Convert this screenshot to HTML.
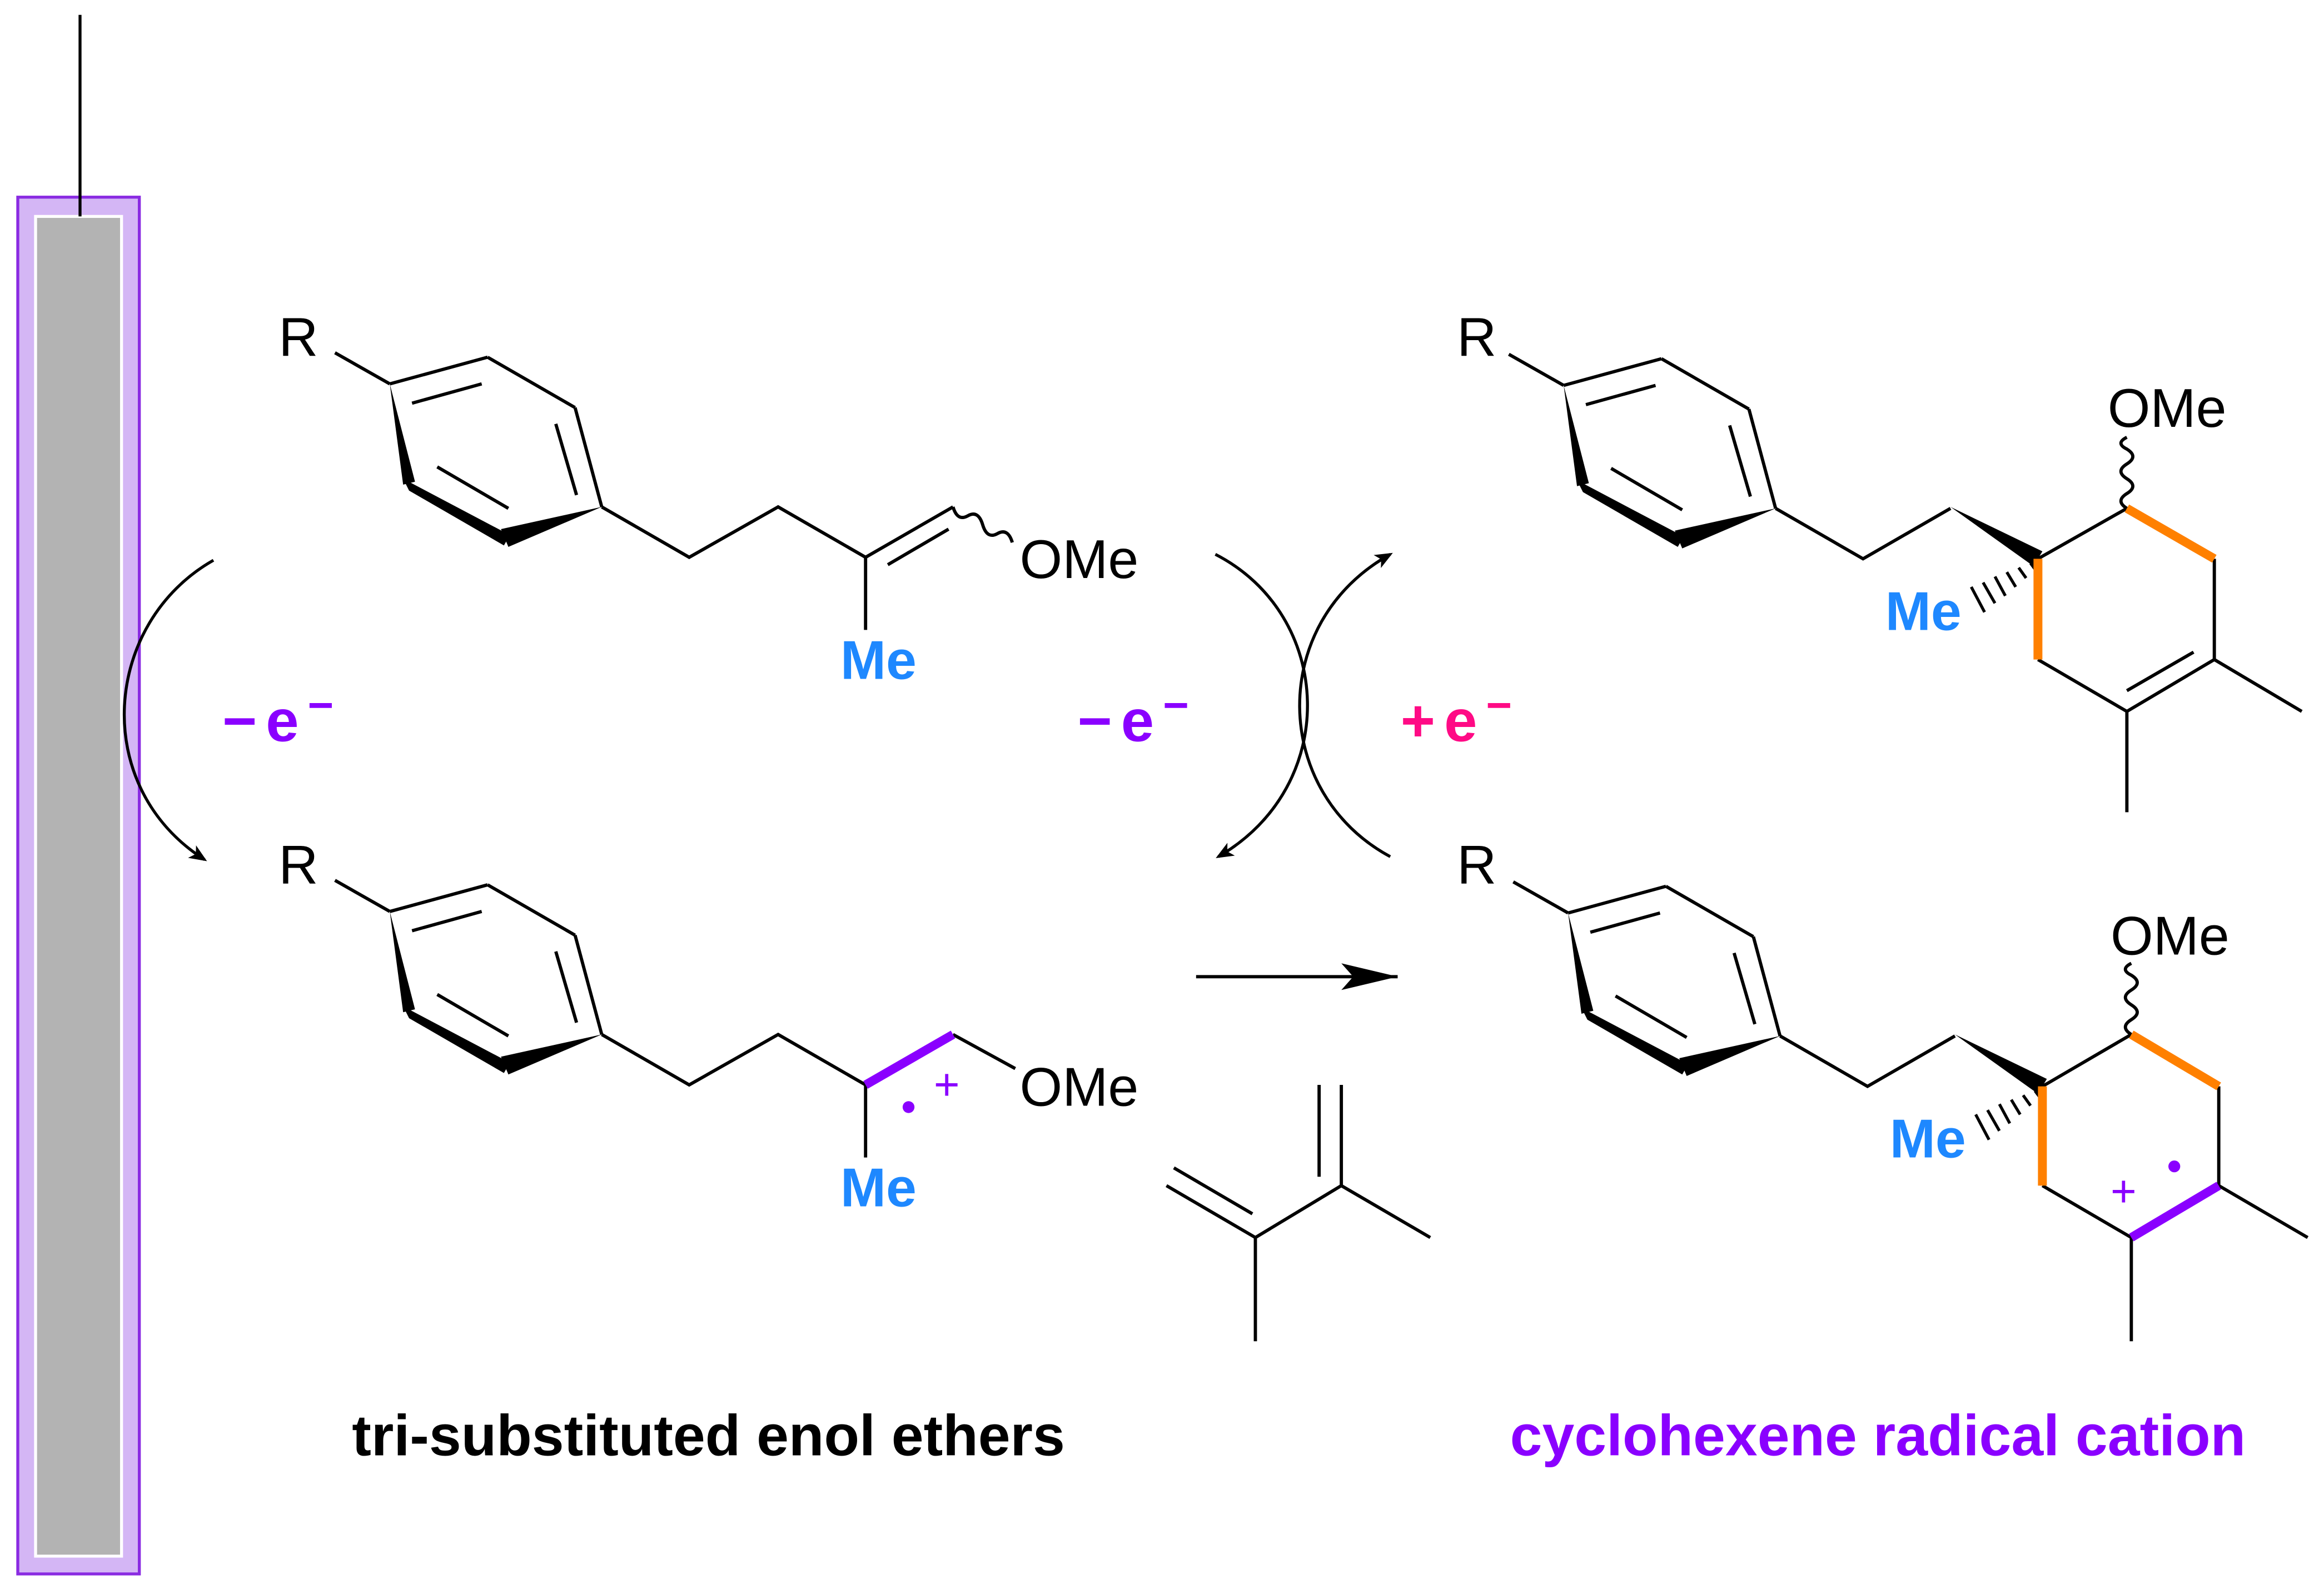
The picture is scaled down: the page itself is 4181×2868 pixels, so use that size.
<!DOCTYPE html>
<html><head><meta charset="utf-8"><style>
html,body{margin:0;padding:0;background:#fff;}
svg{display:block}
text{font-family:"Liberation Sans","DejaVu Sans",sans-serif}
</style></head><body>
<svg width="4181" height="2868" viewBox="0 0 1568 1075.5" xmlns="http://www.w3.org/2000/svg">
<defs>
<marker id="ah" markerWidth="12" markerHeight="10" refX="10" refY="5" orient="auto" markerUnits="userSpaceOnUse"><path d="M0,0 L12,5 L0,10 L3,5 Z" fill="#000"/></marker>
<marker id="big" markerWidth="40" markerHeight="20" refX="38" refY="10" orient="auto" markerUnits="userSpaceOnUse"><path d="M0,1 L38,10 L0,19 L8,10 Z" fill="#000"/></marker>
<g id="ring" stroke="#000" stroke-width="2.2" fill="none">
<line x1="226" y1="238" x2="263" y2="259"/>
<line x1="263" y1="259" x2="329" y2="241"/>
<line x1="329" y1="241" x2="388" y2="275"/>
<line x1="388" y1="275" x2="406" y2="342"/>
<line x1="278" y1="272" x2="325" y2="259"/>
<line x1="375" y1="286" x2="389" y2="334"/>
<line x1="295" y1="315" x2="343" y2="343"/>
<polygon points="263,259 272,327 280,325" fill="#000" stroke="none"/>
<polygon points="272,323 344,361 340,368 276,331" fill="#000" stroke="none"/>
<polygon points="406,342 338,357 343,369" fill="#000" stroke="none"/>
</g>
</defs>

<!-- electrode -->
<rect x="12" y="133" width="82" height="929" fill="#d4b6f5" stroke="#8a2be2" stroke-width="2"/>
<rect x="24" y="146" width="58" height="904" fill="#b3b3b3" stroke="#fff" stroke-width="2"/>
<line x1="54" y1="10" x2="54" y2="146" stroke="#000" stroke-width="2"/>

<!-- molecule 1 -->
<text x="188" y="240" font-size="37">R</text>
<use href="#ring"/>
<g stroke="#000" stroke-width="2.2" fill="none">
<polyline points="406,342 465,376 525,342 584,376 643,342"/>
<line x1="599" y1="381" x2="640" y2="357"/>
<line x1="584" y1="376" x2="584" y2="425"/>
<path d="M643,342 q3,10 10,6 q7,-4 10,6 q3,10 10,6 q7,-4 10,6"/>
</g>
<text x="688" y="390" font-size="37">OMe</text>
<text x="567" y="458" font-size="37" font-weight="bold" fill="#1e88ff">Me</text>

<!-- molecule 2 -->
<text x="188" y="596" font-size="37">R</text>
<use href="#ring" transform="translate(0,356)"/>
<g stroke="#000" stroke-width="2.2" fill="none">
<polyline points="406,698 465,732 525,698 584,732"/>
<line x1="643" y1="698" x2="685" y2="721"/>
<line x1="584" y1="732" x2="584" y2="781"/>
</g>
<line x1="584" y1="732" x2="643" y2="698" stroke="#8a00ff" stroke-width="6"/>
<circle cx="613" cy="747" r="4" fill="#8a00ff"/>
<text x="630" y="742" font-size="30" fill="#8a00ff">+</text>
<text x="688" y="746" font-size="37">OMe</text>
<text x="567" y="814" font-size="37" font-weight="bold" fill="#1e88ff">Me</text>

<!-- molecule 3 -->
<text x="983" y="240" font-size="37">R</text>
<use href="#ring" transform="translate(792,1)"/>
<g stroke="#000" stroke-width="2.2" fill="none">
<polyline points="1198,343 1257,377 1316,343"/>
<polyline points="1375,377 1435,343"/>
<polyline points="1494,377 1494,445 1435,480 1375,445"/>
<line x1="1435" y1="466" x2="1480" y2="440"/>
<line x1="1494" y1="445" x2="1553" y2="480"/>
<line x1="1435" y1="480" x2="1435" y2="548"/>
<path d="M1435,343 q-8,-5 0,-10 q8,-5 0,-10 q-8,-5 0,-10 q8,-5 0,-10 q-8,-4 0,-8"/>
</g>
<polygon points="1316,342 1378,372 1372,382" fill="#000"/>
<g stroke="#000" stroke-width="2">
<line x1="1370" y1="380" x2="1373" y2="384"/><line x1="1362" y1="383" x2="1367" y2="390"/>
<line x1="1354" y1="386" x2="1360" y2="396"/><line x1="1346" y1="389" x2="1353" y2="402"/>
<line x1="1338" y1="393" x2="1346" y2="407"/><line x1="1330" y1="396" x2="1339" y2="413"/>
</g>
<g stroke="#ff8000" stroke-width="6"><line x1="1435" y1="343" x2="1494" y2="377"/><line x1="1375" y1="377" x2="1375" y2="445"/></g>
<text x="1422" y="288" font-size="37">OMe</text>
<text x="1272" y="425" font-size="37" font-weight="bold" fill="#1e88ff">Me</text>

<!-- molecule 4 -->
<text x="983" y="596" font-size="37">R</text>
<use href="#ring" transform="translate(795,357)"/>
<g stroke="#000" stroke-width="2.2" fill="none">
<polyline points="1201,699 1260,733 1319,699"/>
<polyline points="1378,733 1438,698"/>
<line x1="1497" y1="733" x2="1497" y2="800"/>
<line x1="1438" y1="835" x2="1378" y2="800"/>
<line x1="1497" y1="800" x2="1557" y2="835"/>
<line x1="1438" y1="835" x2="1438" y2="905"/>
<path d="M1438,698 q-8,-5 0,-10 q8,-5 0,-10 q-8,-5 0,-10 q8,-5 0,-10 q-8,-4 0,-8"/>
</g>
<polygon points="1319,698 1381,728 1375,738" fill="#000"/>
<g stroke="#000" stroke-width="2">
<line x1="1373" y1="736" x2="1376" y2="740"/><line x1="1365" y1="739" x2="1370" y2="746"/>
<line x1="1357" y1="742" x2="1363" y2="752"/><line x1="1349" y1="745" x2="1356" y2="758"/>
<line x1="1341" y1="749" x2="1349" y2="763"/><line x1="1333" y1="752" x2="1342" y2="769"/>
</g>
<g stroke="#ff8000" stroke-width="6"><line x1="1438" y1="698" x2="1497" y2="733"/><line x1="1378" y1="733" x2="1378" y2="800"/></g>
<line x1="1438" y1="835" x2="1497" y2="800" stroke="#8a00ff" stroke-width="6"/>
<text x="1424" y="814" font-size="30" fill="#8a00ff">+</text>
<circle cx="1467" cy="787" r="4" fill="#8a00ff"/>
<text x="1424" y="644" font-size="37">OMe</text>
<text x="1275" y="781" font-size="37" font-weight="bold" fill="#1e88ff">Me</text>

<!-- diene -->
<g stroke="#000" stroke-width="2.2" fill="none">
<line x1="905" y1="732" x2="905" y2="800"/>
<line x1="890" y1="732" x2="890" y2="794"/>
<line x1="905" y1="800" x2="965" y2="835"/>
<line x1="905" y1="800" x2="847" y2="835"/>
<line x1="847" y1="835" x2="787" y2="800"/>
<line x1="845" y1="819" x2="792" y2="788"/>
<line x1="847" y1="835" x2="847" y2="905"/>
</g>

<!-- arrows -->
<line x1="807" y1="659" x2="943" y2="659" stroke="#000" stroke-width="2.2" marker-end="url(#big)"/>
<path d="M144,378 C70,420 60,530 138,580" stroke="#000" stroke-width="2" fill="none" marker-end="url(#ah)"/>
<path d="M820,374 C900,415 905,530 822,578" stroke="#000" stroke-width="2" fill="none" marker-end="url(#ah)"/>
<path d="M938,578 C858,535 855,420 938,374" stroke="#000" stroke-width="2" fill="none" marker-end="url(#ah)"/>

<!-- labels -->
<text x="150" y="500" font-size="40" font-weight="bold" fill="#8a00ff" letter-spacing="6">−e<tspan dy="-14" font-size="30">−</tspan></text>
<text x="727" y="500" font-size="40" font-weight="bold" fill="#8a00ff" letter-spacing="6">−e<tspan dy="-14" font-size="30">−</tspan></text>
<text x="945" y="500" font-size="40" font-weight="bold" fill="#ff0a85" letter-spacing="6">+e<tspan dy="-14" font-size="30">−</tspan></text>
<text x="478" y="982" font-size="39" font-weight="bold" text-anchor="middle">tri-substituted enol ethers</text>
<text x="1267" y="982" font-size="39" font-weight="bold" text-anchor="middle" fill="#8a00ff">cyclohexene radical cation</text>
</svg>
</body></html>
